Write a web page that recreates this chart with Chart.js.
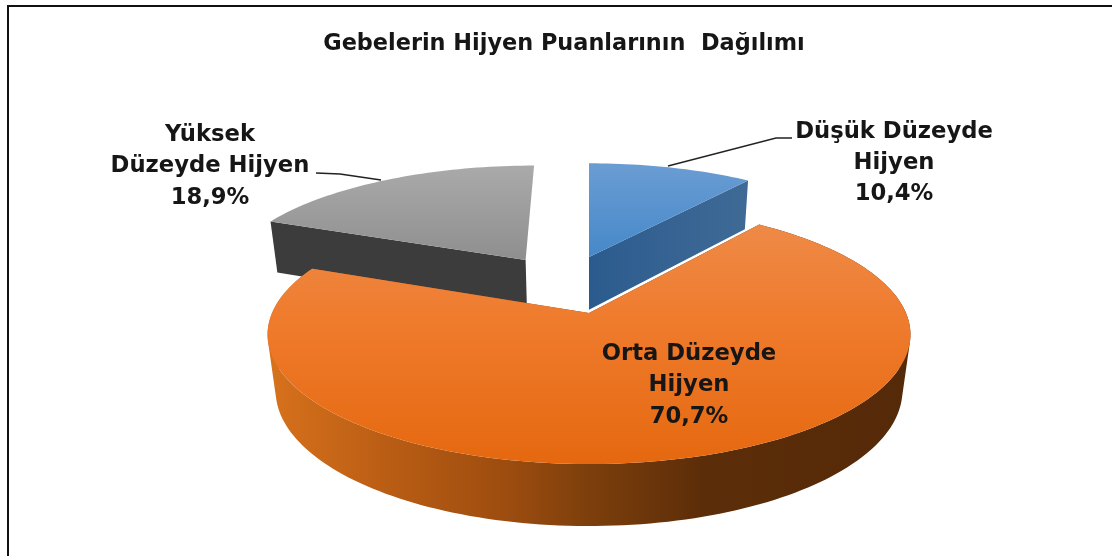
<!DOCTYPE html>
<html>
<head>
<meta charset="utf-8">
<title>Gebelerin Hijyen Puanlarının Dağılımı</title>
<script src="https://cdn.jsdelivr.net/npm/chart.js@4"></script>
<style>
  html, body { margin: 0; padding: 0; background: #fff; overflow: hidden; }
  canvas { position: absolute; left: 0; top: 0; }
  #frame { position: absolute; left: 7px; top: 5px; right: 0; bottom: 0; border-top: 2px solid #111; border-left: 2px solid #111; }
</style>
</head>
<body>
<div id="frame"></div>
<canvas id="myChart" width="1112" height="556"></canvas>
<script>
var chartTitle = 'Gebelerin Hijyen Puanlarının  Dağılımı';
var categories = ['Düşük Düzeyde Hijyen', 'Orta Düzeyde Hijyen', 'Yüksek Düzeyde Hijyen'];
var values = [10.4, 70.7, 18.9];
var labelLines = [['Düşük Düzeyde', 'Hijyen'], ['Orta Düzeyde', 'Hijyen'], ['Yüksek', 'Düzeyde Hijyen']];

// look of the picture, not data
var view = { cx: 589, cy: 313, rx: 317, ry: 126, k: 0.166, depth: 57, drop: 0.025 };
var explode = [[0, 0.48], [0, 0], [-0.215, 0.452]];
var drawOrder = [2, 0, 1];
var endWall = [true, true, false];
var rimWall = [false, true, false];
var labelPos = [[894, 132, 31], [689, 354, 31.5], [210, 135, 31.5]];
var leaders = [[[792, 138], [776, 138], [668, 166]], null, [[316, 173], [340, 174], [381, 180]]];

function project(u, v, low) {
  var w = 1 + view.k * v + (low ? view.drop : 0);
  return [view.cx + view.rx * u / w, view.cy + (-view.ry * v + (low ? view.depth : 0)) / w];
}

function gradient(ctx, x0, y0, x1, y1, stops) {
  var g = ctx.createLinearGradient(x0, y0, x1, y1);
  stops.forEach(function (s) { g.addColorStop(s[0], s[1]); });
  return g;
}

function topFill(ctx, i) {
  if (i == 0) return gradient(ctx, 0, 162, 0, 258, [[0, '#6b9dd3'], [1, '#4588c9']]);
  if (i == 1) return gradient(ctx, 0, 225, 0, 465, [[0, '#ee8a47'], [0.4, '#ef7b2d'], [1, '#e5680f']]);
  return gradient(ctx, 0, 165, 0, 262, [[0, '#aaaaaa'], [1, '#8e8e8e']]);
}

function sideFill(ctx, i) {
  if (i == 0) return gradient(ctx, 589, 0, 745, 0, [[0, '#2b5b8e'], [1, '#3f6a96']]);
  if (i == 1) return gradient(ctx, 265, 0, 910, 0, [[0, '#d8721c'], [0.2, '#b85c14'], [0.38, '#9c4c0f'], [0.5, '#7d3f0c'], [0.68, '#5c2d09'], [1, '#552a08']]);
  return '#3c3c3c';
}

function fillPoly(ctx, pts, fill) {
  ctx.beginPath();
  pts.forEach(function (p, n) { n ? ctx.lineTo(p[0], p[1]) : ctx.moveTo(p[0], p[1]); });
  ctx.closePath();
  ctx.fillStyle = fill;
  ctx.fill();
}

// each quad turned the same way so the folded rim does not cancel out
function addQuad(ctx, q) {
  var area = 0;
  q.forEach(function (p, n) {
    var r = q[(n + 1) % 4];
    area += p[0] * r[1] - r[0] * p[1];
  });
  if (area < 0) q = q.slice().reverse();
  q.forEach(function (p, n) { n ? ctx.lineTo(p[0], p[1]) : ctx.moveTo(p[0], p[1]); });
  ctx.closePath();
}

// uses the angles chart.js worked out for each slice
function drawSlice(ctx, arc, i) {
  var off = explode[i], rim = [];
  var steps = Math.ceil((arc.endAngle - arc.startAngle) * 40);
  for (var s = 0; s <= steps; s++) {
    var a = arc.startAngle + (arc.endAngle - arc.startAngle) * s / steps;
    rim.push([off[0] + Math.cos(a), off[1] - Math.sin(a)]);
  }
  var top = function (p) { return project(p[0], p[1], false); };
  var low = function (p) { return project(p[0], p[1], true); };
  ctx.beginPath();
  addQuad(ctx, [top(off), top(rim[0]), low(rim[0]), low(off)]);
  if (endWall[i]) addQuad(ctx, [top(off), top(rim[steps]), low(rim[steps]), low(off)]);
  if (rimWall[i]) {
    for (var n = 0; n < steps; n++) {
      addQuad(ctx, [top(rim[n]), top(rim[n + 1]), low(rim[n + 1]), low(rim[n])]);
    }
  }
  ctx.fillStyle = sideFill(ctx, i);
  ctx.fill();
  fillPoly(ctx, [top(off)].concat(rim.map(top)), topFill(ctx, i));
}

var pie3d = {
  id: 'pie3d',
  beforeDatasetsDraw: function (chart) {
    var ctx = chart.ctx, arcs = chart.getDatasetMeta(0).data;
    ctx.save();
    drawOrder.forEach(function (i) { drawSlice(ctx, arcs[i], i); });
    ctx.restore();
    return false;
  },
  afterDraw: function (chart) {
    var ctx = chart.ctx;
    ctx.save();
    ctx.strokeStyle = '#222';
    ctx.lineWidth = 1.3;
    leaders.forEach(function (l) {
      if (!l) return;
      ctx.beginPath();
      l.forEach(function (p, n) { n ? ctx.lineTo(p[0], p[1]) : ctx.moveTo(p[0], p[1]); });
      ctx.stroke();
    });
    ctx.fillStyle = '#161616';
    ctx.font = 'bold 22.7px "DejaVu Sans"';
    ctx.textAlign = 'center';
    ctx.textBaseline = 'middle';
    values.forEach(function (val, i) {
      var lines = labelLines[i].concat(val.toFixed(1).replace('.', ',') + '%');
      lines.forEach(function (t, n) {
        ctx.fillText(t, labelPos[i][0], labelPos[i][1] + n * labelPos[i][2]);
      });
    });
    ctx.restore();
  }
};

var ctx = document.getElementById('myChart').getContext('2d');
var myChart = new Chart(ctx, {
  type: 'pie',
  data: {
    labels: categories,
    datasets: [{ data: values, backgroundColor: ['#5b9bd5', '#ed7d31', '#a5a5a5'] }]
  },
  options: {
    responsive: false,
    animation: false,
    layout: { padding: { left: 16 } },
    plugins: {
      legend: { display: false },
      tooltip: { enabled: false },
      title: {
        display: true,
        text: chartTitle,
        color: '#161616',
        font: { family: '"DejaVu Sans"', size: 22.4, weight: 'bold' },
        padding: { top: 31, bottom: 10 }
      }
    }
  },
  plugins: [pie3d]
});
</script>
</body>
</html>
